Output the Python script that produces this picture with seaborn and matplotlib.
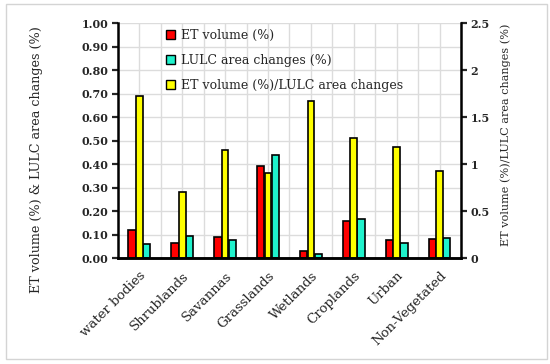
import numpy as np
import pandas as pd
import matplotlib
matplotlib.use("Agg")
import matplotlib.pyplot as plt
from matplotlib.patches import Patch, Rectangle
import seaborn as sns

categories = ["water bodies", "Shrublands", "Savannas", "Grasslands",
              "Wetlands", "Croplands", "Urban", "Non-Vegetated"]
et_volume = [0.118, 0.064, 0.090, 0.392, 0.031, 0.156, 0.076, 0.079]
lulc_change = [0.060, 0.094, 0.078, 0.440, 0.018, 0.167, 0.064, 0.087]
et_ratio = [1.72, 0.70, 1.15, 0.90, 1.67, 1.28, 1.18, 0.93]

series = ["ET volume (%)", "LULC area changes (%)", "ET volume (%)/LULC area changes"]
red, cyan, yellow = "#ff0000", "#1ff2cc", "#ffff00"

sns.set_style("white")
plt.rcParams["font.family"] = ["DejaVu Serif"]

df = pd.DataFrame({
    "cat": categories * 2,
    "series": [series[0]] * 8 + [series[1]] * 8,
    "value": et_volume + lulc_change,
})

fig = plt.figure(figsize=(5.5, 3.64), dpi=100)
ax = fig.add_axes([0.2145, 0.2912, 0.6236, 0.6456])

# empty middle level leaves room for the yellow bar on the twin axis
sns.barplot(data=df, x="cat", y="value", hue="series",
            hue_order=[series[0], "gap", series[1]],
            palette={series[0]: red, "gap": "white", series[1]: cyan},
            order=categories, width=0.51, saturation=1, legend=False,
            edgecolor="black", linewidth=1.2, ax=ax)

ax2 = ax.twinx()
sns.barplot(x=categories, y=et_ratio, order=categories, color=yellow,
            saturation=1, width=0.155, edgecolor="black", linewidth=1.2, ax=ax2)

ax.set_xlim(-0.5, 7.5)
ax.set_ylim(0, 1.0)
ax2.set_ylim(0, 2.5)
ax.set_xlabel("")
ax.set_ylabel("")
ax2.set_ylabel("")

ax.set_yticks(np.arange(0, 1.01, 0.1))
ax.set_yticklabels([f"{v:.2f}" for v in np.arange(0, 1.01, 0.1)],
                   fontweight="bold", fontsize=8)
ax2.set_yticks([0, 0.5, 1, 1.5, 2, 2.5])
ax2.set_yticklabels(["0", "0.5", "1", "1.5", "2", "2.5"],
                    fontweight="bold", fontsize=8)

ax.set_xticks(range(len(categories)))
ax.set_xticks(np.arange(-0.5, len(categories), 1), minor=True)
ax.set_xticklabels(categories, rotation=45, ha="right",
                   rotation_mode="anchor", fontsize=9.5)
ax.tick_params(axis="x", which="major", length=0, pad=8)
ax.tick_params(axis="x", which="minor", length=5, width=1.6, direction="out")
ax.tick_params(axis="y", length=4, width=1.6, direction="out", pad=3)
ax2.tick_params(axis="y", length=4, width=1.6, direction="out", pad=3)

ax.grid(axis="x", which="both", color="#dcdcdc", linewidth=1)
ax.grid(axis="y", which="major", color="#dcdcdc", linewidth=1)
ax.set_axisbelow(True)
ax2.grid(False)

for a in (ax, ax2):
    a.spines["top"].set_visible(False)
    for s in ("left", "bottom", "right"):
        a.spines[s].set_linewidth(1.8)
        a.spines[s].set_color("black")
ax.spines["right"].set_visible(False)
ax2.spines["left"].set_visible(False)

handles = [Patch(facecolor=c, edgecolor="black", linewidth=1) for c in (red, cyan, yellow)]
fig.legend(handles, series, loc="upper left", bbox_to_anchor=(0.29, 0.937),
           frameon=False, fontsize=9, handlelength=0.75, handleheight=0.75,
           handletextpad=0.45, labelspacing=0.95, borderpad=0)

fig.text(37 / 550, 1 - 160 / 364, "ET volume (%) & LULC area changes (%)",
         rotation=90, ha="center", va="center", fontsize=9.2)
fig.text(506 / 550, 1 - 135 / 364, "ET volume (%)/LULC area changes (%)",
         rotation=90, ha="center", va="center", fontsize=8.1)

fig.patches.append(Rectangle((6 / 550, 1 - 359 / 364), 541 / 550, 355 / 364,
                             transform=fig.transFigure, fill=False,
                             edgecolor="#d4d4d4", linewidth=1))

fig.savefig("out.png", dpi=100)
